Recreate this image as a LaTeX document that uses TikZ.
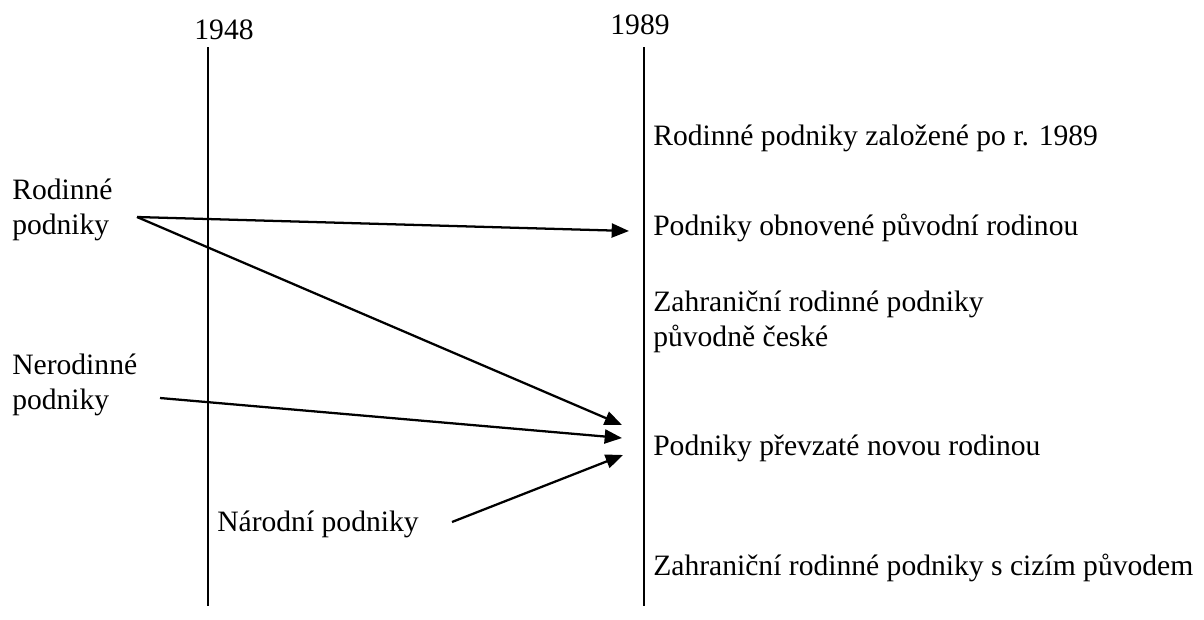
\documentclass[tikz,border=0pt]{standalone}
\usepackage{fontspec}
\setmainfont{Liberation Serif}
\usetikzlibrary{arrows.meta}
\begin{document}
\begin{tikzpicture}[x=0.75pt,y=-0.75pt,
  lbl/.style={inner sep=0pt,anchor=west,font=\fontsize{22.2}{26}\selectfont,align=left},
  year/.style={inner sep=0pt,font=\fontsize{22.2}{26}\selectfont},
  axis/.style={line width=1.6pt},
  arr/.style={line width=1.7pt,-{Triangle[length=13pt,width=10.5pt]}}]
\useasboundingbox (0,0) rectangle (1204,619);
% axes
\coordinate (t1) at (208,47);
\coordinate (b1) at (208,606);
\coordinate (t2) at (644,47);
\coordinate (b2) at (644,606);
\draw[axis] (t1) -- (b1);
\draw[axis] (t2) -- (b2);
\node[year] (y1) at (224,30) {1948};
\node[year] (y2) at (640,25) {1989};
% right labels
\node[lbl] (r1) at (653,138) {Rodinné podniky založené po r. 1989};
\node[lbl] (r2) at (653,228) {Podniky obnovené původní rodinou};
\node[lbl] (r3) at (653,322) {Zahraniční rodinné podniky\\původně české};
\node[lbl] (r4) at (653,448) {Podniky převzaté novou rodinou};
\node[lbl] (r5) at (653,568) {Zahraniční rodinné podniky s cizím původem};
% left labels
\node[lbl] (l1) at (12,210) {Rodinné\\podniky};
\node[lbl] (l2) at (12,385) {Nerodinné\\podniky};
\node[lbl] (l3) at (217,524) {Národní podniky};
% arrow ends
\coordinate (s1) at (137,217);
\coordinate (s2) at (160,398);
\coordinate (s3) at (452,522);
\coordinate (e1) at (629,231);
\coordinate (e2) at (622,425);
\coordinate (e3) at (622,438);
\coordinate (e4) at (623,455);
\draw[arr] (s1) -- (e1);
\draw[arr] (s1) -- (e2);
\draw[arr] (s2) -- (e3);
\draw[arr] (s3) -- (e4);
\end{tikzpicture}
\end{document}
